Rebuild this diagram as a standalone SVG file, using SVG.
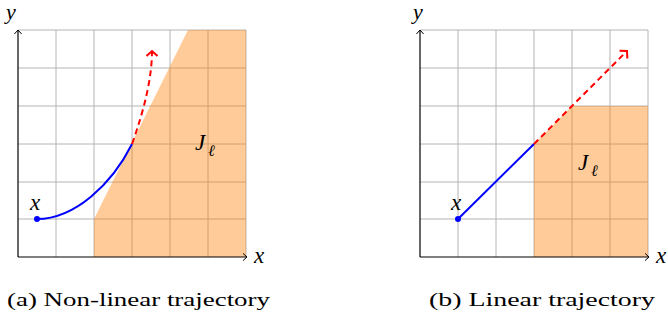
<svg xmlns="http://www.w3.org/2000/svg" width="668" height="320" viewBox="0 0 668 320">
<style>
.grid{stroke:#b4b4b4;stroke-width:1;fill:none}
.axis{stroke:#000;stroke-width:1.2;fill:none}
.region{fill:#ff8000;fill-opacity:0.4;stroke:none}
.traj{stroke:#0000ff;stroke-width:2;fill:none}
.ext{stroke:#ff0000;stroke-width:2;fill:none;stroke-dasharray:6,4}
.math{font-family:'Liberation Serif','Times New Roman',Times,serif;font-style:italic;fill:#000}
.cap{font-family:'Liberation Serif','Times New Roman',Times,serif;font-size:18px;font-weight:normal;fill:#000}
</style>
<defs>
<marker id="axarrow" markerUnits="userSpaceOnUse" markerWidth="12" markerHeight="12" refX="0" refY="0" viewBox="-6 -6 12 12" orient="auto" overflow="visible">
<path d="M-4,-3.6 L0,0 L-4,3.6" fill="none" stroke="#000" stroke-width="1"/>
</marker>
<marker id="redarrow" markerUnits="userSpaceOnUse" markerWidth="14" markerHeight="14" refX="0" refY="0" viewBox="-7 -7 14 14" orient="auto" overflow="visible">
<path d="M-5,-5.5 L0,0 L-5,5.5" fill="none" stroke="#ff0000" stroke-width="2"/>
</marker>
</defs>

<g id="plot-a">
<g id="a-grid">
<path class="grid" d="M56,30V257M94,30V257M132,30V257M170,30V257M208,30V257M246,30V257M18,30H246M18,68H246M18,106H246M18,144H246M18,182H246M18,219H246"/>
</g>
<g id="a-region">
<path class="region" d="M94,257 L94,219 L188,30 L246,30 L246,257 Z"/>
<text class="math" x="195" y="150" font-size="23">J</text>
<text class="math" x="208" y="156" font-size="16">ℓ</text>
</g>
<g id="a-axes">
<path class="axis" d="M18,257 H247" marker-end="url(#axarrow)"/>
<path class="axis" d="M18,257 V30" marker-end="url(#axarrow)"/>
<text class="math" x="254" y="263" font-size="23">x</text>
<text class="math" x="6" y="19" font-size="22">y</text>
</g>
<g id="a-connectors">
<path class="traj" d="M37,219 C75,219 112,184 132,144"/>
<path class="ext" d="M132,144 Q152,88 152,51" marker-end="url(#redarrow)"/>
</g>
<g id="a-start">
<circle cx="37" cy="219" r="3" fill="#0000ff"/>
<text class="math" x="30" y="210" font-size="23">x</text>
</g>
<text id="caption-a" class="cap" x="7" y="306" textLength="263" lengthAdjust="spacingAndGlyphs">(a) Non-linear trajectory</text>
</g>

<g id="plot-b">
<g id="b-grid">
<path class="grid" d="M458,30V257M496,30V257M534,30V257M572,30V257M610,30V257M648,30V257M420,30H648M420,68H648M420,106H648M420,144H648M420,182H648M420,219H648"/>
</g>
<g id="b-region">
<path class="region" d="M534,257 L534,144 L572,106 L648,106 L648,257 Z"/>
<text class="math" x="578" y="170" font-size="23">J</text>
<text class="math" x="591" y="176" font-size="16">ℓ</text>
</g>
<g id="b-axes">
<path class="axis" d="M420,257 H649" marker-end="url(#axarrow)"/>
<path class="axis" d="M420,257 V30" marker-end="url(#axarrow)"/>
<text class="math" x="656" y="263" font-size="23">x</text>
<text class="math" x="413" y="19" font-size="22">y</text>
</g>
<g id="b-connectors">
<path class="traj" d="M458,219 L534,144"/>
<path class="ext" d="M534,144 L627,51" marker-end="url(#redarrow)"/>
</g>
<g id="b-start">
<circle cx="458" cy="219" r="3" fill="#0000ff"/>
<text class="math" x="451" y="210" font-size="23">x</text>
</g>
<text id="caption-b" class="cap" x="429" y="306" textLength="226" lengthAdjust="spacingAndGlyphs">(b) Linear trajectory</text>
</g>
</svg>
